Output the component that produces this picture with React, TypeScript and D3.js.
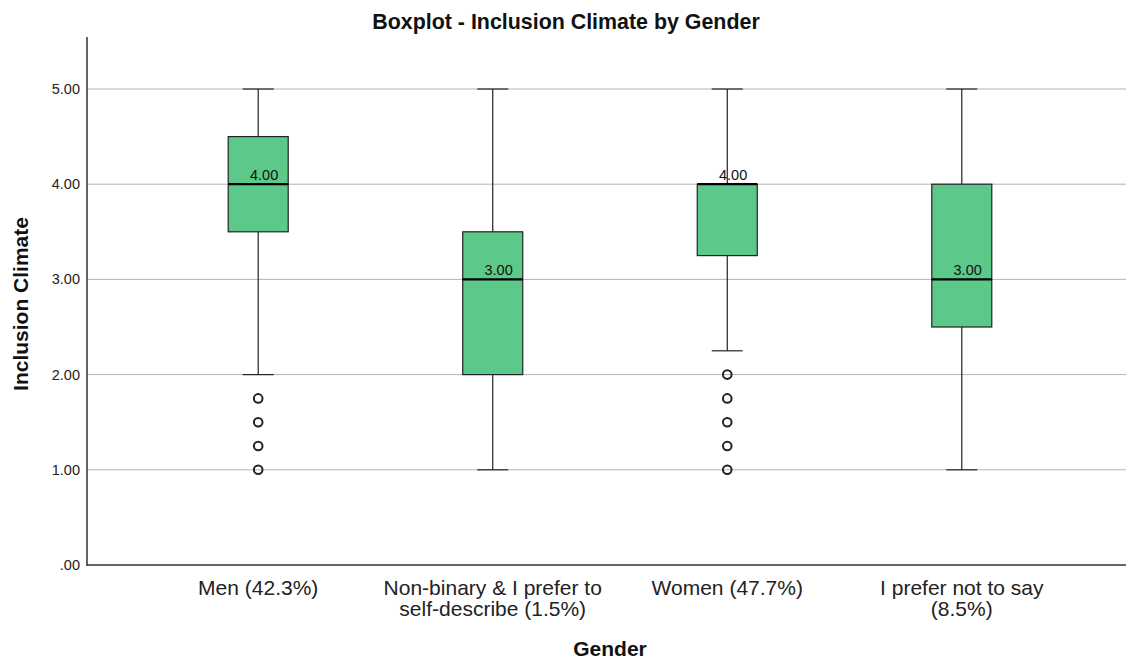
import React from "react";
import * as d3 from "d3";

const categories = [
  ["Men (42.3%)"],
  ["Non-binary & I prefer to", "self-describe (1.5%)"],
  ["Women (47.7%)"],
  ["I prefer not to say", "(8.5%)"],
];
const whiskerLow = [2.0, 1.0, 2.25, 1.0];
const q1 = [3.5, 2.0, 3.25, 2.5];
const medians = [4.0, 3.0, 4.0, 3.0];
const q3 = [4.5, 3.5, 4.0, 4.0];
const whiskerHigh = [5.0, 5.0, 5.0, 5.0];
const outliers = [
  [1.75, 1.5, 1.25, 1.0],
  [],
  [2.0, 1.75, 1.5, 1.25, 1.0],
  [],
];
const yTicks = [0, 1, 2, 3, 4, 5];

const W = 1126;
const H = 662;
const left = 87;
const bottom = 565;
const top = 37;

const App = () => {
  const keys = categories.map((c) => c.join(" "));
  const x = d3.scalePoint<string>().domain(keys).range([left, 1133]).padding(0.73);
  const y = d3.scaleLinear().domain([0, 5]).range([bottom, 89]);
  const fmt = (v: number) => d3.format(".2f")(v).replace(/^0/, "");
  const boxW = 60;
  const capW = 31;
  const font = "Arial, 'Liberation Sans', sans-serif";

  return (
    <svg
      width={W}
      height={H}
      style={{ position: "absolute", left: 0, top: 0, background: "#fff" }}
      fontFamily={font}
    >
      <text x={566} y={29} textAnchor="middle" fontSize={21.4} fontWeight="bold" fill="#111">
        Boxplot - Inclusion Climate by Gender
      </text>

      {/* gridlines */}
      {yTicks
        .filter((t) => t > 0)
        .map((t) => (
          <line key={t} x1={left} x2={W} y1={y(t)} y2={y(t)} stroke="#b4b4b4" strokeWidth={1} />
        ))}

      {/* y ticks */}
      {yTicks.map((t) => (
        <text key={t} x={80} y={y(t) + 5} textAnchor="end" fontSize={14.5} fill="#222">
          {fmt(t)}
        </text>
      ))}

      {/* boxes */}
      {keys.map((k, i) => {
        const cx = x(k) as number;
        return (
          <g key={k}>
            <line x1={cx} x2={cx} y1={y(whiskerHigh[i])} y2={y(q3[i])} stroke="#222" strokeWidth={1.2} />
            <line x1={cx} x2={cx} y1={y(q1[i])} y2={y(whiskerLow[i])} stroke="#222" strokeWidth={1.2} />
            <line x1={cx - capW / 2} x2={cx + capW / 2} y1={y(whiskerHigh[i])} y2={y(whiskerHigh[i])} stroke="#222" strokeWidth={1.2} />
            <line x1={cx - capW / 2} x2={cx + capW / 2} y1={y(whiskerLow[i])} y2={y(whiskerLow[i])} stroke="#222" strokeWidth={1.2} />
            <rect
              x={cx - boxW / 2}
              y={y(q3[i])}
              width={boxW}
              height={Math.max(y(q1[i]) - y(q3[i]), 0)}
              fill="#5cc98b"
              stroke="#222"
              strokeWidth={1.2}
            />
            <line x1={cx - boxW / 2} x2={cx + boxW / 2} y1={y(medians[i])} y2={y(medians[i])} stroke="#000" strokeWidth={2.2} />
            <text x={cx + boxW / 2 - 10} y={y(medians[i]) - 4} textAnchor="end" fontSize={14.5} fill="#111">
              {fmt(medians[i])}
            </text>
            {outliers[i].map((o) => (
              <circle key={o} cx={cx} cy={y(o)} r={4.3} fill="none" stroke="#222" strokeWidth={2} />
            ))}
            {categories[i].map((line, j) => (
              <text key={j} x={cx} y={595 + j * 21} textAnchor="middle" fontSize={21} fill="#222">
                {line}
              </text>
            ))}
          </g>
        );
      })}

      {/* axes */}
      <line x1={left} x2={left} y1={top} y2={bottom + 1} stroke="#333" strokeWidth={1.5} />
      <line x1={left} x2={W} y1={bottom} y2={bottom} stroke="#333" strokeWidth={1.5} />

      <text x={610} y={656} textAnchor="middle" fontSize={21} fontWeight="bold" fill="#111">
        Gender
      </text>
      <text
        transform={`translate(28, 304) rotate(-90)`}
        textAnchor="middle"
        fontSize={21}
        fontWeight="bold"
        fill="#111"
      >
        Inclusion Climate
      </text>
    </svg>
  );
};

export default App;
